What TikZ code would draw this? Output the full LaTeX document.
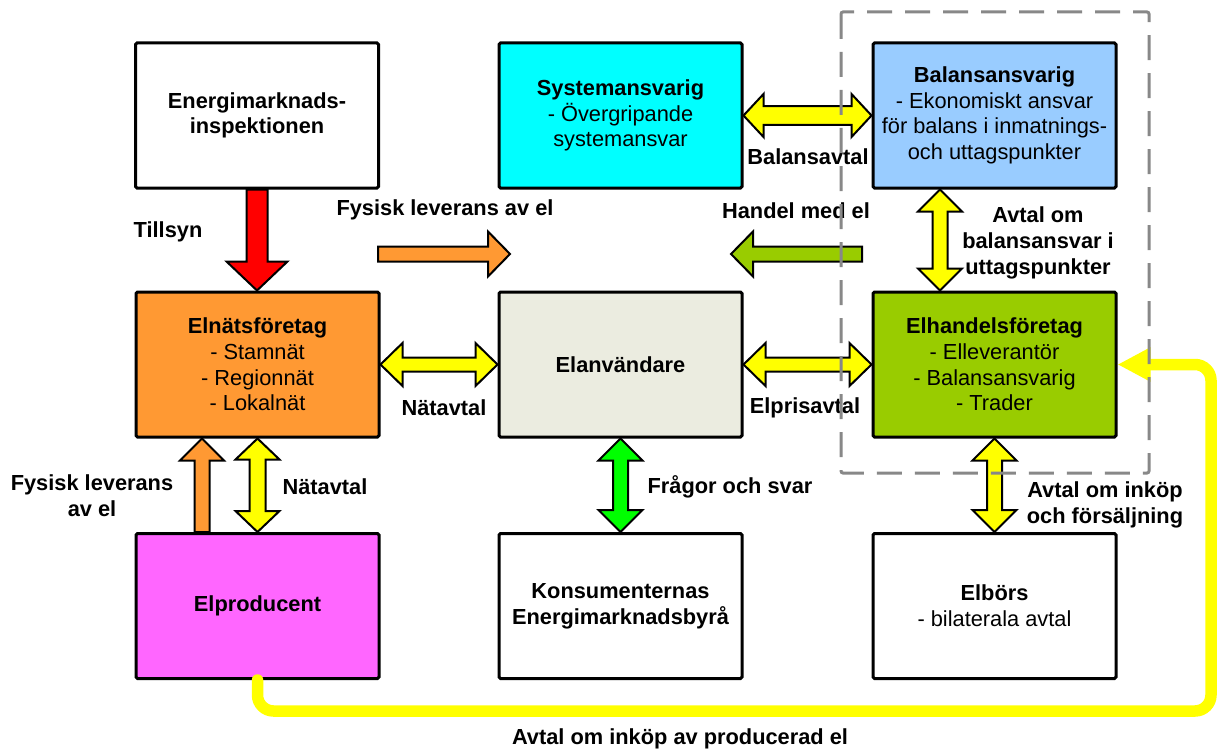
\documentclass[tikz,border=0pt]{standalone}
\usepackage{fontspec}
\setmainfont{Liberation Sans}
\usetikzlibrary{calc,arrows.meta}
\definecolor{cyanbox}{HTML}{00FFFF}
\definecolor{bluebox}{HTML}{99CCFF}
\definecolor{orangebox}{HTML}{FF9933}
\definecolor{greybox}{HTML}{EBECE0}
\definecolor{greenbox}{HTML}{99CC00}
\definecolor{pinkbox}{HTML}{FF66FF}
\definecolor{yel}{HTML}{FFFF00}
\definecolor{brightgreen}{HTML}{00FF00}
\definecolor{dashgrey}{HTML}{888888}
\tikzset{
 actor/.style={draw=black, line width=3pt, minimum width=243pt, minimum height=145pt, rounded corners=1.5pt, align=center, inner sep=0pt, font=\fontsize{21.8}{25.7}\selectfont},
 lbl/.style={align=center, font=\fontsize{21.8}{25.7}\selectfont\bfseries, inner sep=0pt},
 blockarrow/.style={draw=black, line width=2pt, line join=miter},
 yline/.style={draw=yel, line width=11.5pt, line cap=round, rounded corners=16pt, -{Triangle[length=33pt,width=32pt]}},
 dashbox/.style={draw=dashgrey, line width=3pt, dash pattern=on 25pt off 13pt, rounded corners=2pt}
}
% horizontal double arrow: #1 left tip, #2 right tip, #3 half head, #4 half shaft, #5 head length, #6 colour
\newcommand{\hdouble}[6]{%
 \draw[blockarrow, fill=#6] let \p1=#1, \p2=#2 in
 (\x1,\y1) -- (\x1+#5,\y1+#3) -- (\x1+#5,\y1+#4) -- (\x2-#5,\y1+#4) -- (\x2-#5,\y1+#3) -- (\x2,\y1)
 -- (\x2-#5,\y1-#3) -- (\x2-#5,\y1-#4) -- (\x1+#5,\y1-#4) -- (\x1+#5,\y1-#3) -- cycle;}
% vertical double arrow: #1 top tip, #2 bottom tip
\newcommand{\vdouble}[6]{%
 \draw[blockarrow, fill=#6] let \p1=#1, \p2=#2 in
 (\x1,\y1) -- (\x1+#3,\y1-#5) -- (\x1+#4,\y1-#5) -- (\x1+#4,\y2+#5) -- (\x1+#3,\y2+#5) -- (\x1,\y2)
 -- (\x1-#3,\y2+#5) -- (\x1-#4,\y2+#5) -- (\x1-#4,\y1-#5) -- (\x1-#3,\y1-#5) -- cycle;}
% single arrow pointing right: #1 tail, #2 tip
\newcommand{\hright}[6]{%
 \draw[blockarrow, fill=#6] let \p1=#1, \p2=#2 in
 (\x1,\y1+#4) -- (\x2-#5,\y1+#4) -- (\x2-#5,\y1+#3) -- (\x2,\y1) -- (\x2-#5,\y1-#3) -- (\x2-#5,\y1-#4) -- (\x1,\y1-#4) -- cycle;}
% single arrow pointing left: #1 tail, #2 tip
\newcommand{\hleft}[6]{%
 \draw[blockarrow, fill=#6] let \p1=#1, \p2=#2 in
 (\x1,\y1+#4) -- (\x2+#5,\y1+#4) -- (\x2+#5,\y1+#3) -- (\x2,\y1) -- (\x2+#5,\y1-#3) -- (\x2+#5,\y1-#4) -- (\x1,\y1-#4) -- cycle;}
% single arrow pointing down: #1 tail (top), #2 tip (bottom)
\newcommand{\vdown}[6]{%
 \draw[blockarrow, fill=#6] let \p1=#1, \p2=#2 in
 (\x1-#4,\y1) -- (\x1+#4,\y1) -- (\x1+#4,\y2+#5) -- (\x1+#3,\y2+#5) -- (\x1,\y2) -- (\x1-#3,\y2+#5) -- (\x1-#4,\y2+#5) -- cycle;}
% single arrow pointing up: #1 tail (bottom), #2 tip (top)
\newcommand{\vup}[6]{%
 \draw[blockarrow, fill=#6] let \p1=#1, \p2=#2 in
 (\x1-#4,\y1) -- (\x1+#4,\y1) -- (\x1+#4,\y2-#5) -- (\x1+#3,\y2-#5) -- (\x1,\y2) -- (\x1-#3,\y2-#5) -- (\x1-#4,\y2-#5) -- cycle;}
\begin{document}
\begin{tikzpicture}[x=1pt,y=-1pt]
\useasboundingbox[fill=white] (0,0) rectangle (1217,749);
% boxes
\node[actor, fill=white] (ei) at (257,115.5) {\bfseries Energimarknads-\\\bfseries inspektionen};
\node[actor, fill=cyanbox] (sa) at (620.5,115.5) {\bfseries Systemansvarig\\- Övergripande\\systemansvar};
\node[actor, fill=bluebox] (ba) at (994.5,115.5) {\bfseries Balansansvarig\\- Ekonomiskt ansvar\\för balans i inmatnings-\\och uttagspunkter};
\node[actor, fill=orangebox] (en) at (257.5,364.5) {\bfseries Elnätsföretag\\- Stamnät\\- Regionnät\\- Lokalnät};
\node[actor, fill=greybox] (eu) at (620.5,364.5) {\bfseries Elanvändare};
\node[actor, fill=greenbox] (eh) at (994.5,364.5) {\bfseries Elhandelsföretag\\- Elleverantör\\- Balansansvarig\\- Trader};
\node[actor, fill=pinkbox] (ep) at (257.5,606) {\bfseries Elproducent};
\node[actor, fill=white] (kb) at (620.5,606) {\bfseries Konsumenternas\\\bfseries Energimarknadsbyrå};
\node[actor, fill=white] (eb) at (994.5,606) {\bfseries Elbörs\\- bilaterala avtal};
% helper coordinates
\coordinate (bx) at (940,0);
\coordinate (ox) at (202,0);
\coordinate (flA) at (378,254);
\coordinate (flB) at (510,254);
\coordinate (hmA) at (862,254);
\coordinate (hmB) at (731,254);
\coordinate (yb) at (1211,711);
% block arrows
\vdown{(ei.south)}{(en.north)}{30.5pt}{10.5pt}{29pt}{red}
\hdouble{(sa.east)}{(ba.west)}{21.5pt}{9.3pt}{20pt}{yel}
\hright{(flA)}{(flB)}{22.5pt}{7.5pt}{22pt}{orangebox}
\hleft{(hmA)}{(hmB)}{22.5pt}{7.5pt}{22pt}{greenbox}
\vdouble{(bx |- ba.south)}{(bx |- eh.north)}{22pt}{7.5pt}{22pt}{yel}
\hdouble{(en.east)}{(eu.west)}{21.5pt}{7pt}{22pt}{yel}
\hdouble{(eu.east)}{(eh.west)}{21.5pt}{7pt}{22pt}{yel}
\vdouble{(eu.south)}{(kb.north)}{22pt}{7.5pt}{22pt}{brightgreen}
\vdouble{(eh.south)}{(eb.north)}{22pt}{7.5pt}{22pt}{yel}
\vup{(ox |- ep.north)}{(ox |- en.south)}{22pt}{7.5pt}{22pt}{orangebox}
\vdouble{(en.south)}{(ep.north)}{22pt}{8pt}{21pt}{yel}
% labels
\node[lbl] (l1) at (168,232) {Tillsyn};
\node[lbl] (l2) at (445,210) {Fysisk leverans av el};
\node[lbl] (l3) at (796,211) {Handel med el};
\node[lbl] (l4) at (808,157) {Balansavtal};
\node[lbl] (l5) at (1038,243) {Avtal om\\balansansvar i\\uttagspunkter};
\node[lbl] (l6) at (444,408) {Nätavtal};
\node[lbl] (l7) at (805,408) {Elprisavtal};
\node[lbl] (l8) at (92,496) {Fysisk leverans\\av el};
\node[lbl] (l9) at (325,487) {Nätavtal};
\node[lbl] (l10) at (730,487) {Frågor och svar};
\node[lbl] (l11) at (1105,505) {Avtal om inköp\\och försäljning};
\node[lbl] (l12) at (680,739) {Avtal om inköp av producerad el};
% long yellow connector
\draw[yline] (ep.south) |- (yb) |- (eh.east);
% dashed group
\draw[dashbox] (841,12) rectangle (1149,473);
\end{tikzpicture}
\end{document}
